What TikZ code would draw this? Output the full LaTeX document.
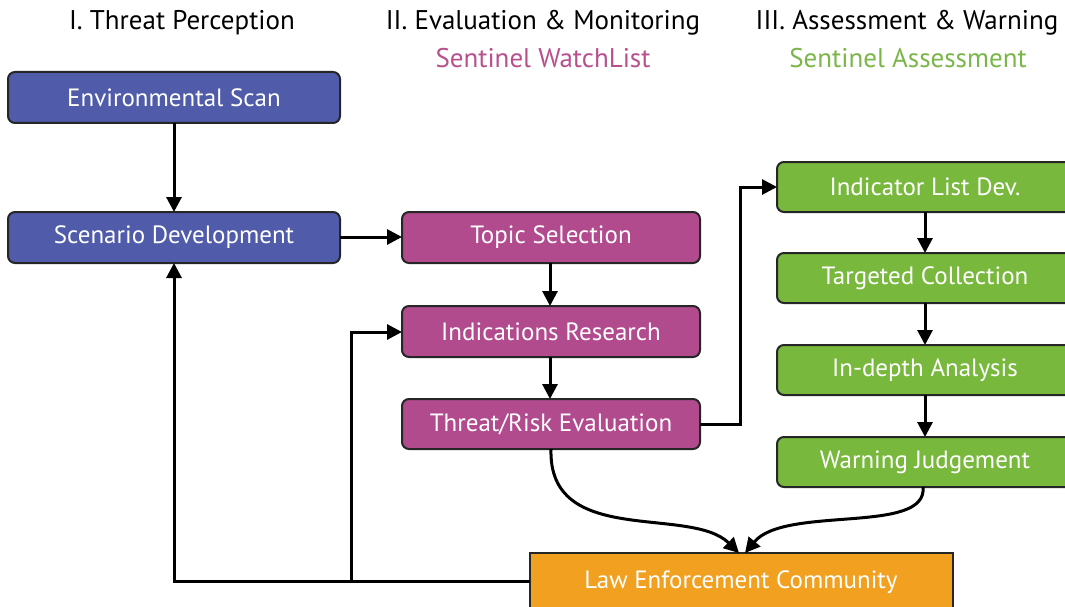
\documentclass[tikz,border=0pt]{standalone}
\usepackage{fontspec}
\setmainfont{PT Sans}
\usetikzlibrary{arrows.meta}
\definecolor{cblue}{RGB}{80,92,170}
\definecolor{cmag}{RGB}{178,74,142}
\definecolor{cgreen}{RGB}{120,184,60}
\definecolor{corange}{RGB}{242,160,32}
\definecolor{tmag}{RGB}{184,80,142}
\definecolor{tgreen}{RGB}{122,182,72}
\tikzset{
  box/.style={draw=black!85,line width=2pt,rounded corners=7pt,text=white,font=\fontsize{25}{28}\selectfont},
  btxt/.style={text=white,font=\fontsize{25}{28}\selectfont},
  arr/.style={line width=3pt,-{Triangle[length=15pt,width=15pt]}},
  ttl/.style={font=\fontsize{27}{30}\selectfont},
}
\begin{document}
\begin{tikzpicture}[x=1pt,y=-1pt]
\useasboundingbox (0,0) rectangle (1065,607);
% boxes
\draw[box,fill=cblue] (8,72) rectangle (340,123) node[midway] (env) {Environmental Scan};
\draw[box,fill=cblue] (8,212) rectangle (340,263) node[midway] (scen) {Scenario Development};
\draw[box,fill=cmag] (402,212) rectangle (700,263) node[midway] (topic) {Topic Selection};
\draw[box,fill=cmag] (402,306) rectangle (700,357) node[midway] (ind) {Indications Research};
\draw[box,fill=cmag] (402,399) rectangle (700,449) node[midway] (thr) {Threat/Risk Evaluation};
\draw[box,fill=cgreen] (777,162) rectangle (1085,212);
\node[btxt] (ild) at (925,187) {Indicator List Dev.};
\draw[box,fill=cgreen] (777,253) rectangle (1085,303);
\node[btxt] (tc) at (925,278) {Targeted Collection};
\draw[box,fill=cgreen] (777,345) rectangle (1085,395);
\node[btxt] (ida) at (925,370) {In-depth Analysis};
\draw[box,fill=cgreen] (777,437) rectangle (1085,487);
\node[btxt] (wj) at (925,462) {Warning Judgement};
\draw[draw=black!85,line width=2pt,fill=corange] (530,553) rectangle (953,625);
\node[btxt] (lec) at (741,582) {Law Enforcement Community};
% titles
\node[ttl] (t1) at (182,23) {I. Threat Perception};
\node[ttl] (t2) at (543,23) {II. Evaluation \& Monitoring};
\node[ttl,text=tmag] (s2) at (543,58) {Sentinel WatchList};
\node[ttl] (t3) at (907,23) {III. Assessment \& Warning};
\node[ttl,text=tgreen] (s3) at (908,58) {Sentinel Assessment};
% coordinates
\coordinate (envb) at (174,123);
\coordinate (scent) at (174,212);
\coordinate (scenb) at (174,263);
\coordinate (scenr) at (340,237);
\coordinate (topicl) at (402,237);
\coordinate (topicb) at (550,263);
\coordinate (indt) at (550,306);
\coordinate (indb) at (550,357);
\coordinate (indl) at (402,332);
\coordinate (thrt) at (550,399);
\coordinate (thrr) at (700,424);
\coordinate (thrb) at (551,449);
\coordinate (ildl) at (777,187);
\coordinate (ildb) at (925,212);
\coordinate (tct) at (925,253);
\coordinate (tcb) at (925,303);
\coordinate (idat) at (925,345);
\coordinate (idab) at (925,395);
\coordinate (wjt) at (925,437);
\coordinate (wjb) at (923,487);
\coordinate (lecl) at (530,581);
\coordinate (lect1) at (739,553);
\coordinate (lect2) at (745,553);
% connectors
\draw[arr] (envb) -- (scent);
\draw[arr] (scenr) -- (topicl);
\draw[arr] (topicb) -- (indt);
\draw[arr] (indb) -- (thrt);
\draw[arr] (thrr) -- (740,424) -- (740,187) -- (ildl);
\draw[arr] (ildb) -- (tct);
\draw[arr] (tcb) -- (idat);
\draw[arr] (idab) -- (wjt);
\draw[arr] (lecl) -- (174,581) -- (scenb);
\draw[arr] (351,581) -- (351,332) -- (indl);
\draw[arr] (thrb) .. controls (548,548) and (690,505) .. (lect1);
\draw[arr] (wjb) .. controls (928,535) and (785,505) .. (lect2);
\end{tikzpicture}
\end{document}
